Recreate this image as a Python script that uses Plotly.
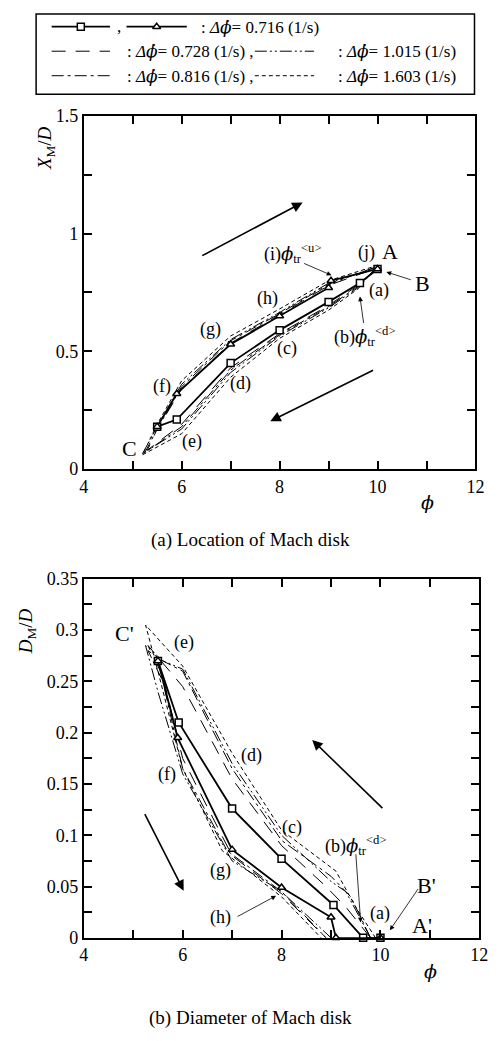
import plotly.graph_objects as go

W, H = 501, 1041
FONT = "'Liberation Serif', 'Times New Roman', serif"
PHI_SPAN = "<span style=\"font-family:'DejaVu Serif'\">\u03d5</span>"
PHIDOT_SPAN = "<span style=\"font-family:'DejaVu Serif'\">\u03d5\u0307</span>"

# ---------------- (a) location of Mach disk, X_M/D ----------------
# rate 0.716 1/s : decreasing phi (squares) and increasing phi (triangles)
phi_a_dec_716 = [10.0, 9.64, 9.0, 8.0, 7.0, 5.9, 5.5]
xm_dec_716 = [0.85, 0.79, 0.71, 0.59, 0.45, 0.21, 0.18]
phi_a_inc_716 = [5.5, 5.9, 7.0, 8.0, 9.0, 9.05, 10.0]
xm_inc_716 = [0.18, 0.32, 0.53, 0.65, 0.77, 0.80, 0.85]

# other rates: closed loops (decreasing branch then increasing branch)
phi_a_728 = [10.0, 9.6, 9.0, 8.0, 7.0, 6.0, 5.3, 5.5, 6.0, 7.0, 8.0, 9.0, 10.0]
xm_728 = [0.855, 0.78, 0.695, 0.575, 0.43, 0.19, 0.08, 0.17, 0.34, 0.535, 0.655, 0.78, 0.855]
phi_a_816 = [10.0, 9.6, 9.0, 8.0, 7.0, 6.0, 5.25, 5.5, 6.0, 7.0, 8.0, 9.0, 10.0]
xm_816 = [0.86, 0.775, 0.69, 0.57, 0.42, 0.18, 0.07, 0.17, 0.35, 0.545, 0.66, 0.785, 0.86]
phi_a_1015 = [10.0, 9.6, 9.0, 8.0, 7.0, 6.0, 5.2, 5.5, 6.0, 7.0, 8.0, 9.0, 10.0]
xm_1015 = [0.86, 0.77, 0.685, 0.565, 0.41, 0.17, 0.065, 0.18, 0.36, 0.55, 0.665, 0.79, 0.86]
phi_a_1603 = [10.0, 9.6, 9.0, 8.0, 7.0, 6.0, 5.2, 5.5, 6.0, 7.0, 8.0, 9.0, 10.0]
xm_1603 = [0.865, 0.765, 0.675, 0.555, 0.39, 0.15, 0.06, 0.19, 0.375, 0.565, 0.68, 0.80, 0.865]

# ---------------- (b) diameter of Mach disk, D_M/D ----------------
phi_b_dec_716 = [10.0, 9.65, 9.05, 8.0, 7.0, 5.92, 5.5]
dm_dec_716 = [0.0, 0.0, 0.032, 0.077, 0.126, 0.21, 0.27]
phi_b_inc_716 = [5.5, 5.9, 7.0, 8.0, 9.0, 9.1, 10.0]
dm_inc_716 = [0.27, 0.195, 0.086, 0.049, 0.02, 0.0, 0.0]

phi_b_728 = [9.8, 9.3, 8.9, 8.0, 7.0, 6.0, 5.3, 5.6, 6.0, 7.0, 8.0, 8.9]
dm_728 = [0.0, 0.03, 0.05, 0.09, 0.155, 0.245, 0.285, 0.255, 0.175, 0.08, 0.043, 0.0]
phi_b_816 = [9.8, 9.4, 9.0, 8.0, 7.0, 6.0, 5.6, 5.3, 5.6, 6.0, 6.9, 8.0, 8.9]
dm_816 = [0.0, 0.04, 0.06, 0.095, 0.165, 0.26, 0.27, 0.28, 0.25, 0.165, 0.085, 0.045, 0.0]
phi_b_1015 = [9.8, 9.3, 9.0, 8.0, 7.0, 6.0, 5.6, 5.25, 5.5, 6.0, 7.0, 8.0, 9.0]
dm_1015 = [0.0, 0.045, 0.055, 0.1, 0.17, 0.262, 0.27, 0.285, 0.24, 0.16, 0.075, 0.045, 0.0]
phi_b_1603 = [9.9, 9.5, 9.1, 8.0, 7.0, 6.0, 5.25, 5.5, 6.0, 6.8, 8.0, 8.8]
dm_1603 = [0.0, 0.03, 0.065, 0.105, 0.18, 0.265, 0.305, 0.26, 0.165, 0.085, 0.04, 0.0]

# ---------------- ticks ----------------
x_tickvals = [4, 5, 6, 7, 8, 9, 10, 11, 12]
x_ticktext = ["4", "", "6", "", "8", "", "10", "", "12"]
ya_tickvals = [0, 0.25, 0.5, 0.75, 1.0, 1.25, 1.5]
ya_ticktext = ["0", "", "0.5", "", "1", "", "1.5"]
yb_tickvals = [0, 0.025, 0.05, 0.075, 0.1, 0.125, 0.15, 0.175, 0.2, 0.225, 0.25, 0.275, 0.3, 0.325, 0.35]
yb_ticktext = ["0", "", "0.05", "", "0.1", "", "0.15", "", "0.2", "", "0.25", "", "0.3", "", "0.35"]

dash_styles = {
    "0.728": "14px,10px",
    "0.816": "12px,4px,3px,4px",
    "1.015": "12px,3px,2px,3px,2px,3px",
    "1.603": "4px,3px",
}

fig = go.Figure()


def line_trace(x, y, xa, ya, dash="solid", width=1.0, symbol=None):
    kw = dict(x=x, y=y, xaxis=xa, yaxis=ya, showlegend=False, hoverinfo="skip",
              line=dict(color="black", width=width, dash=dash), cliponaxis=False)
    if symbol:
        kw["mode"] = "lines+markers"
        kw["marker"] = dict(symbol=symbol, size=7, color="white",
                            line=dict(color="black", width=1.5))
    else:
        kw["mode"] = "lines"
    return go.Scatter(**kw)


# dashed loops first, solid rate on top
for r, px, py in [("0.728", phi_a_728, xm_728), ("0.816", phi_a_816, xm_816),
                  ("1.015", phi_a_1015, xm_1015), ("1.603", phi_a_1603, xm_1603)]:
    fig.add_trace(line_trace(px, py, "x", "y", dash=dash_styles[r], width=1.0))
for r, px, py in [("0.728", phi_b_728, dm_728), ("0.816", phi_b_816, dm_816),
                  ("1.015", phi_b_1015, dm_1015), ("1.603", phi_b_1603, dm_1603)]:
    fig.add_trace(line_trace(px, py, "x2", "y2", dash=dash_styles[r], width=1.0))

fig.add_trace(line_trace(phi_a_dec_716, xm_dec_716, "x", "y", width=1.8, symbol="square"))
fig.add_trace(line_trace(phi_a_inc_716, xm_inc_716, "x", "y", width=1.8, symbol="triangle-up"))
fig.add_trace(line_trace(phi_b_dec_716, dm_dec_716, "x2", "y2", width=1.8, symbol="square"))
fig.add_trace(line_trace(phi_b_inc_716, dm_inc_716, "x2", "y2", width=1.8, symbol="triangle-up"))

# ---------------- key box (pixel-like axis over the top strip) ----------------
key_x = [[48, 108], [125, 187], [48, 108], [257, 318], [48, 108], [257, 318]]
key_y = [17, 17, 42, 42, 67, 67]
key_dash = ["solid", "solid", dash_styles["0.728"], dash_styles["1.015"],
            dash_styles["0.816"], dash_styles["1.603"]]
key_sym = ["square", "triangle-up", None, None, None, None]
for kx, ky, kd, ks in zip(key_x, key_y, key_dash, key_sym):
    fig.add_trace(go.Scatter(x=kx, y=[ky, ky], xaxis="x3", yaxis="y3", mode="lines",
                             line=dict(color="black", width=1.8 if kd == "solid" else 1.0, dash=kd),
                             showlegend=False, hoverinfo="skip"))
    if ks:
        fig.add_trace(go.Scatter(x=[(kx[0] + kx[1]) / 2], y=[ky], xaxis="x3", yaxis="y3",
                                 mode="markers", showlegend=False, hoverinfo="skip",
                                 marker=dict(symbol=ks, size=7, color="white",
                                             line=dict(color="black", width=1.5))))

annotations = []


def txt(x, y, s, xr, yr, size=18, xanchor="center", yanchor="middle", angle=0):
    annotations.append(dict(x=x, y=y, text=s, xref=xr, yref=yr, showarrow=False,
                            xanchor=xanchor, yanchor=yanchor, textangle=angle,
                            font=dict(family=FONT, size=size, color="black")))


def arrow(x0, y0, x1, y1, xr, yr, head=2, size=1.0, width=1.0):
    annotations.append(dict(x=x1, y=y1, ax=x0, ay=y0, xref=xr, yref=yr, axref=xr, ayref=yr,
                            text="", showarrow=True, arrowhead=head, arrowsize=size,
                            arrowwidth=width, arrowcolor="black"))


def rate_txt(r, tail=""):
    return ": <i>\u0394" + PHIDOT_SPAN + "</i>= " + r + " (1/s)" + tail


def phi_tr(prefix, sup):
    return prefix + "<i>" + PHI_SPAN + "</i><sub>tr</sub><sup>&lt;" + sup + "&gt;</sup>"


# key texts
txt(113, 17, ",", "x3", "y3", size=17, xanchor="left")
txt(200, 17, rate_txt("0.716"), "x3", "y3", size=17, xanchor="left")
txt(123, 42, rate_txt("0.728", " ,"), "x3", "y3", size=17, xanchor="left")
txt(340, 42, rate_txt("1.015"), "x3", "y3", size=17, xanchor="left")
txt(123, 67, rate_txt("0.816", " ,"), "x3", "y3", size=17, xanchor="left")
txt(340, 67, rate_txt("1.603"), "x3", "y3", size=17, xanchor="left")

# ---- panel (a) labels ----
xa, ya = "x", "y"
arrow(6.39, 0.903, 8.47, 1.132, xa, ya, head=2, size=1.3, width=1.6)
arrow(9.94, 0.423, 7.81, 0.203, xa, ya, head=2, size=1.3, width=1.6)
txt(10.25, 0.925, "A", xa, ya, size=22)
txt(10.92, 0.786, "B", xa, ya, size=22)
arrow(10.71, 0.802, 10.18, 0.837, xa, ya, head=2, size=1.2, width=0.8)
txt(9.78, 0.92, "(j)", xa, ya)
txt(10.02, 0.76, "(a)", xa, ya)
txt(9.06, 0.565, phi_tr("(b)", "d"), xa, ya, xanchor="left")
arrow(9.72, 0.614, 9.64, 0.733, xa, ya, head=2, size=1.2, width=0.8)
txt(7.64, 0.915, phi_tr("(i)", "u"), xa, ya, xanchor="left")
arrow(8.47, 0.876, 9.06, 0.823, xa, ya, head=2, size=1.2, width=0.8)
txt(7.76, 0.726, "(h)", xa, ya)
txt(8.15, 0.51, "(c)", xa, ya)
txt(6.59, 0.593, "(g)", xa, ya)
txt(7.21, 0.364, "(d)", xa, ya)
txt(5.6, 0.35, "(f)", xa, ya)
txt(6.22, 0.116, "(e)", xa, ya)
txt(4.94, 0.088, "C", xa, ya, size=22)

# ---- panel (b) labels ----
xb, yb = "x2", "y2"
arrow(10.07, 0.125, 8.62, 0.193, xb, yb, head=2, size=1.3, width=1.6)
arrow(5.22, 0.122, 6.02, 0.046, xb, yb, head=2, size=1.3, width=1.6)
txt(4.83, 0.297, "C'", xb, yb, size=22)
txt(6.02, 0.288, "(e)", xb, yb)
txt(7.4, 0.178, "(d)", xb, yb)
txt(5.69, 0.159, "(f)", xb, yb)
txt(8.22, 0.108, "(c)", xb, yb)
txt(6.77, 0.066, "(g)", xb, yb)
txt(6.77, 0.02, "(h)", xb, yb)
arrow(7.08, 0.020, 7.89, 0.041, xb, yb, head=2, size=1.2, width=0.8)
txt(8.84, 0.090, phi_tr("(b)", "d"), xb, yb, xanchor="left")
arrow(9.5, 0.083, 9.6, 0.015, xb, yb, head=2, size=1.2, width=0.8)
txt(9.99, 0.024, "(a)", xb, yb)
txt(10.94, 0.051, "B'", xb, yb, size=22)
arrow(10.78, 0.049, 10.19, 0.0074, xb, yb, head=2, size=1.2, width=0.8)
txt(10.84, 0.012, "A'", xb, yb, size=22)
txt(7.76, -0.0437, phi_tr("(i)", "u"), xb, yb, xanchor="left")
arrow(8.5, -0.0325, 9.02, -0.0076, xb, yb, head=2, size=1.2, width=0.8)
txt(9.37, -0.0356, "(j)", xb, yb)
arrow(9.53, -0.0246, 9.86, -0.0054, xb, yb, head=2, size=1.2, width=0.8)

# axis titles and captions (paper)
txt(435 / W, 1 - 501.7 / H, "<i>" + PHI_SPAN + "</i>", "paper", "paper", size=19)
txt(438 / W, 1 - 980 / H, "<i>" + PHI_SPAN + "</i>", "paper", "paper", size=19)
txt(42 / W, 1 - 141 / H, "<i>X</i><sub>M</sub>/<i>D</i>", "paper", "paper", size=19, angle=-90)
txt(22 / W, 1 - 633 / H, "<i>D</i><sub>M</sub>/<i>D</i>", "paper", "paper", size=19, angle=-90)
txt(253 / W, 1 - 540 / H, "(a) Location of Mach disk", "paper", "paper", size=19)
txt(253 / W, 1 - 1028 / H, "(b) Diameter of Mach disk", "paper", "paper", size=19)

axis_common = dict(showgrid=False, zeroline=False, showline=True, linecolor="black",
                   linewidth=2, mirror="ticks", ticks="inside", ticklen=8, tickwidth=1.5,
                   tickcolor="black", tickfont=dict(family=FONT, size=18, color="black"))

fig.update_layout(
    width=W, height=H, margin=dict(l=0, r=0, t=0, b=0),
    paper_bgcolor="white", plot_bgcolor="rgba(0,0,0,0)",
    font=dict(family=FONT, color="black"),
    xaxis=dict(domain=[81 / W, 484 / W], range=[4, 12], anchor="y",
               tickvals=x_tickvals, ticktext=x_ticktext, **axis_common),
    yaxis=dict(domain=[1 - 468 / H, 1 - 108 / H], range=[0, 1.5], anchor="x",
               tickvals=ya_tickvals, ticktext=ya_ticktext, **axis_common),
    xaxis2=dict(domain=[81 / W, 488 / W], range=[4, 12], anchor="y2",
                tickvals=x_tickvals, ticktext=x_ticktext, **axis_common),
    yaxis2=dict(domain=[1 - 946 / H, 1 - 580 / H], range=[0, 0.35], anchor="x2",
                tickvals=yb_tickvals, ticktext=yb_ticktext, **axis_common),
    xaxis3=dict(domain=[0, 1], range=[0, W], visible=False, anchor="y3", fixedrange=True),
    yaxis3=dict(domain=[1 - 90 / H, 1], range=[90, 0], visible=False, anchor="x3", fixedrange=True),
    annotations=annotations,
    shapes=[dict(type="rect", xref="x3", yref="y3", x0=32, x1=483, y0=4, y1=86,
                 line=dict(color="black", width=1.5))],
)

fig.write_html("out.html")
